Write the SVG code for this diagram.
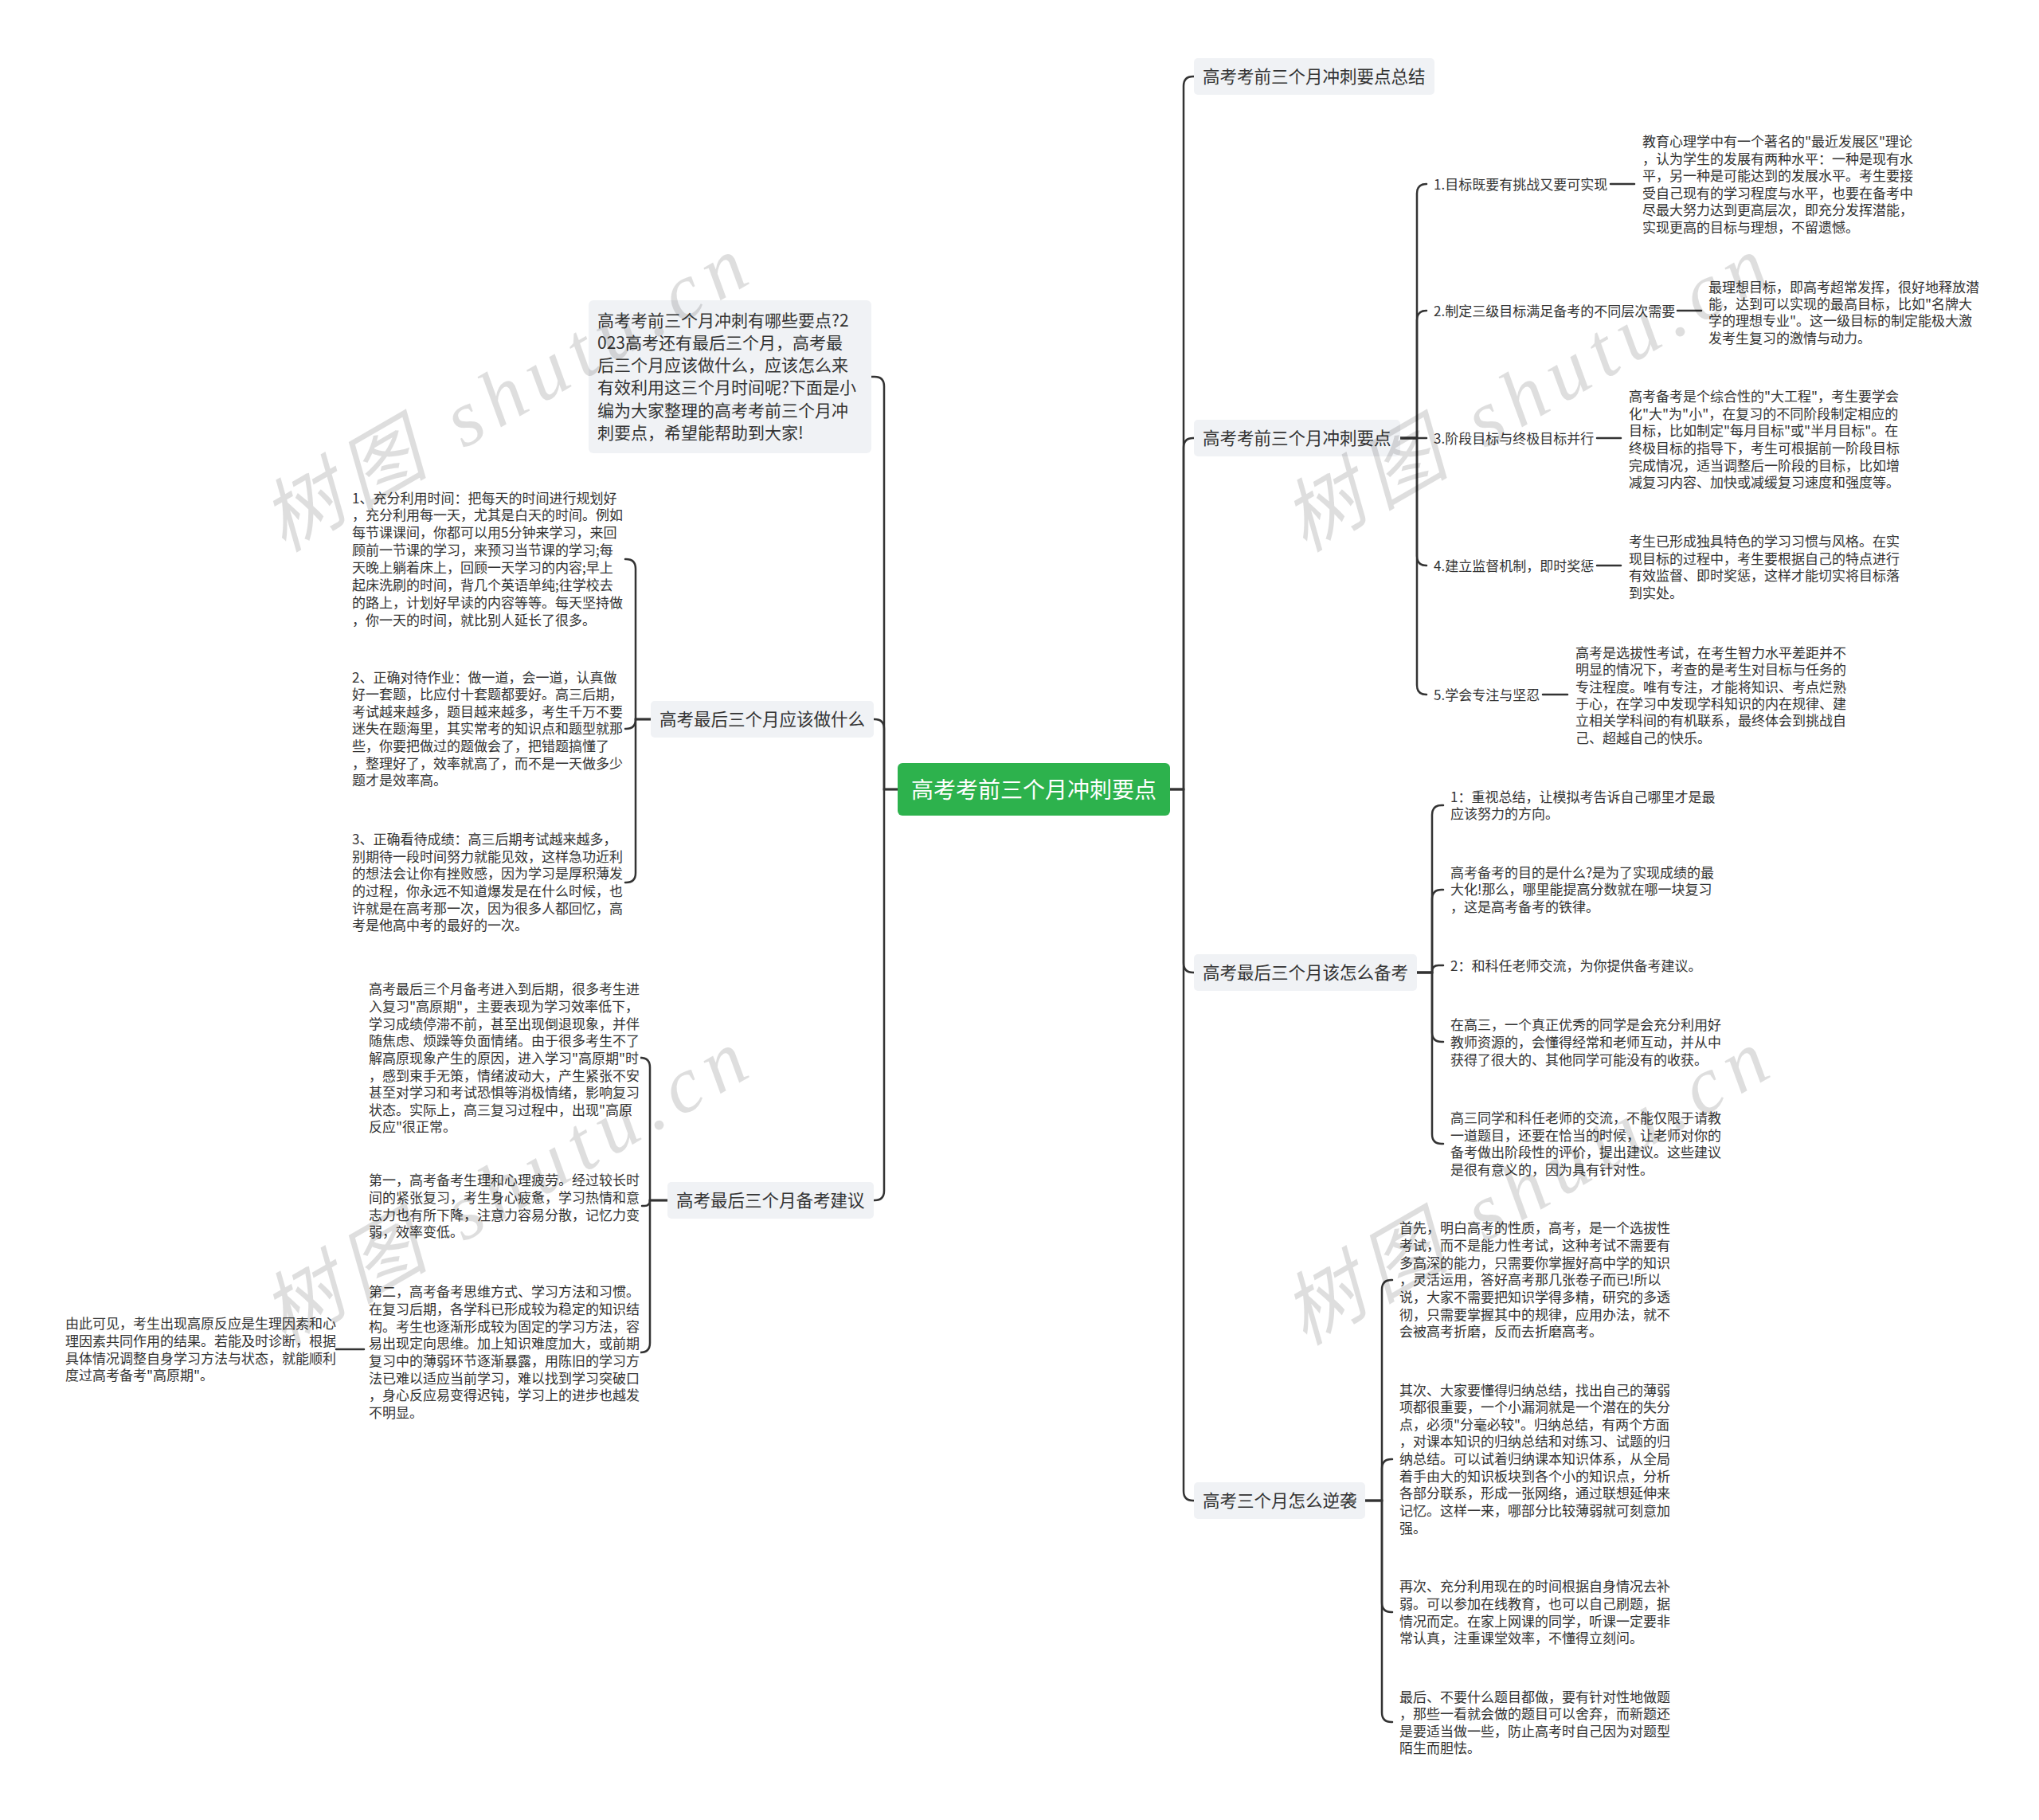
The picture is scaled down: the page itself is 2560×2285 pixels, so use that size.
<svg xmlns="http://www.w3.org/2000/svg" width="2560" height="2285" viewBox="0 0 2560 2285">
<style>
text{font-family:"Noto Sans CJK SC","Noto Sans",sans-serif;fill:#333}
.t17{font-size:17px}
.t21{font-size:21px}
.t22{font-size:21.5px}
.root{font-size:28px;fill:#fff}
.box{fill:#F0F2F5}
.ln{fill:none;stroke:#333;stroke-width:2.5;stroke-linecap:round}
.wm{font-family:"Liberation Serif","Noto Sans CJK SC",serif;font-style:italic;font-size:100px;fill:#000;fill-opacity:0.13}
</style>
<rect width="2560" height="2285" fill="#fff"/>
<g id="connectors">
<path class="ln" d="M1469,991 H1486 V108 Q1486,96 1498,96 H1499"/>
<path class="ln" d="M1469,991 H1486 V562 Q1486,550 1498,550 H1499"/>
<path class="ln" d="M1469,991 H1486 V1209 Q1486,1221 1498,1221 H1499"/>
<path class="ln" d="M1469,991 H1486 V1872 Q1486,1884 1498,1884 H1499"/>
<path class="ln" d="M1127,991 H1110 V485 Q1110,473 1098,473 H1094"/>
<path class="ln" d="M1127,991 H1110 V915 Q1110,903 1098,903 H1097"/>
<path class="ln" d="M1127,991 H1110 V1495 Q1110,1507 1098,1507 H1097"/>
<path class="ln" d="M1758,550 H1779 V243 Q1779,231 1791,231"/>
<path class="ln" d="M1758,550 H1779 V402 Q1779,390 1791,390"/>
<path class="ln" d="M1758,550 H1791"/>
<path class="ln" d="M1758,550 H1779 V698 Q1779,710 1791,710"/>
<path class="ln" d="M1758,550 H1779 V860 Q1779,872 1791,872"/>
<path class="ln" d="M2022,231 H2052"/>
<path class="ln" d="M2106,390 H2136"/>
<path class="ln" d="M2005,550 H2035"/>
<path class="ln" d="M2005,710 H2035"/>
<path class="ln" d="M1937,872 H1968"/>
<path class="ln" d="M1779,1221 H1798 V1023 Q1798,1011 1810,1011 H1812"/>
<path class="ln" d="M1779,1221 H1798 V1129 Q1798,1117 1810,1117 H1812"/>
<path class="ln" d="M1779,1221 H1798 V1220 Q1798,1212 1806,1212 H1812"/>
<path class="ln" d="M1779,1221 H1798 V1296 Q1798,1308 1810,1308 H1812"/>
<path class="ln" d="M1779,1221 H1798 V1424 Q1798,1436 1810,1436 H1812"/>
<path class="ln" d="M1714,1884 H1735 V1619 Q1735,1607 1747,1607 H1748"/>
<path class="ln" d="M1714,1884 H1735 V1844 Q1735,1832 1747,1832 H1748"/>
<path class="ln" d="M1714,1884 H1735 V2012 Q1735,2024 1747,2024 H1748"/>
<path class="ln" d="M1714,1884 H1735 V2150 Q1735,2162 1747,2162 H1748"/>
<path class="ln" d="M817,903 H798 V714 Q798,702 786,702 H785"/>
<path class="ln" d="M817,903 H798 V903 Q798,915 786,915 H785"/>
<path class="ln" d="M817,903 H798 V1096 Q798,1108 786,1108 H785"/>
<path class="ln" d="M838,1507 H816 V1340 Q816,1328 804,1328 H806"/>
<path class="ln" d="M838,1507 H816 V1507 Q816,1514 809,1514 H806"/>
<path class="ln" d="M838,1507 H816 V1686 Q816,1698 804,1698 H806"/>
<path class="ln" d="M457,1694 H422"/>
</g>
<g id="root">
<rect x="1127" y="958" width="342" height="66" rx="6" fill="#2DB24D"/>
<text class="root" x="1298" y="1001.5" text-anchor="middle">高考考前三个月冲刺要点</text>
</g>
<g id="r1"><rect class="box" x="1499" y="73" width="302" height="46" rx="5"/><text class="t22" x="1510" y="104">高考考前三个月冲刺要点总结</text></g>
<g id="r2"><rect class="box" x="1499" y="527" width="259" height="46" rx="5"/><text class="t22" x="1510" y="558">高考考前三个月冲刺要点</text></g>
<g id="r3"><rect class="box" x="1499" y="1198" width="280" height="46" rx="5"/><text class="t22" x="1510" y="1229">高考最后三个月该怎么备考</text></g>
<g id="r4"><rect class="box" x="1499" y="1861" width="215" height="46" rx="5"/><text class="t22" x="1510" y="1892">高考三个月怎么逆袭</text></g>
<g id="l2"><rect class="box" x="817" y="880" width="280" height="46" rx="5"/><text class="t22" x="828" y="911">高考最后三个月应该做什么</text></g>
<g id="l3"><rect class="box" x="838" y="1484" width="259" height="46" rx="5"/><text class="t22" x="849" y="1515">高考最后三个月备考建议</text></g>
<g id="l1"><rect class="box" x="739" y="377" width="355" height="192" rx="6"/>
<text class="t21" y="409.5"><tspan x="750">高考考前三个月冲刺有哪些要点?2</tspan><tspan x="750" dy="28.3">023高考还有最后三个月，高考最</tspan><tspan x="750" dy="28.3">后三个月应该做什么，应该怎么来</tspan><tspan x="750" dy="28.3">有效利用这三个月时间呢?下面是小</tspan><tspan x="750" dy="28.3">编为大家整理的高考考前三个月冲</tspan><tspan x="750" dy="28.3">刺要点，希望能帮助到大家!</tspan></text></g>
<g id="lb1"><text class="t17" y="631.5"><tspan x="442">1、充分利用时间：把每天的时间进行规划好</tspan><tspan x="442" dy="21.9">，充分利用每一天，尤其是白天的时间。例如</tspan><tspan x="442" dy="21.9">每节课课间，你都可以用5分钟来学习，来回</tspan><tspan x="442" dy="21.9">顾前一节课的学习，来预习当节课的学习;每</tspan><tspan x="442" dy="21.9">天晚上躺着床上，回顾一天学习的内容;早上</tspan><tspan x="442" dy="21.9">起床洗刷的时间，背几个英语单纯;往学校去</tspan><tspan x="442" dy="21.9">的路上，计划好早读的内容等等。每天坚持做</tspan><tspan x="442" dy="21.9">，你一天的时间，就比别人延长了很多。</tspan></text></g>
<g id="lb2"><text class="t17" y="856.5"><tspan x="442">2、正确对待作业：做一道，会一道，认真做</tspan><tspan x="442" dy="21.6">好一套题，比应付十套题都要好。高三后期，</tspan><tspan x="442" dy="21.6">考试越来越多，题目越来越多，考生千万不要</tspan><tspan x="442" dy="21.6">迷失在题海里，其实常考的知识点和题型就那</tspan><tspan x="442" dy="21.6">些，你要把做过的题做会了，把错题搞懂了</tspan><tspan x="442" dy="21.6">，整理好了，效率就高了，而不是一天做多少</tspan><tspan x="442" dy="21.6">题才是效率高。</tspan></text></g>
<g id="lb3"><text class="t17" y="1059.8"><tspan x="442">3、正确看待成绩：高三后期考试越来越多，</tspan><tspan x="442" dy="21.7">别期待一段时间努力就能见效，这样急功近利</tspan><tspan x="442" dy="21.7">的想法会让你有挫败感，因为学习是厚积薄发</tspan><tspan x="442" dy="21.7">的过程，你永远不知道爆发是在什么时候，也</tspan><tspan x="442" dy="21.7">许就是在高考那一次，因为很多人都回忆，高</tspan><tspan x="442" dy="21.7">考是他高中考的最好的一次。</tspan></text></g>
<g id="la"><text class="t17" y="1248.2"><tspan x="463">高考最后三个月备考进入到后期，很多考生进</tspan><tspan x="463" dy="21.66">入复习"高原期"，主要表现为学习效率低下，</tspan><tspan x="463" dy="21.66">学习成绩停滞不前，甚至出现倒退现象，并伴</tspan><tspan x="463" dy="21.66">随焦虑、烦躁等负面情绪。由于很多考生不了</tspan><tspan x="463" dy="21.66">解高原现象产生的原因，进入学习"高原期"时</tspan><tspan x="463" dy="21.66">，感到束手无策，情绪波动大，产生紧张不安</tspan><tspan x="463" dy="21.66">甚至对学习和考试恐惧等消极情绪，影响复习</tspan><tspan x="463" dy="21.66">状态。实际上，高三复习过程中，出现"高原</tspan><tspan x="463" dy="21.66">反应"很正常。</tspan></text></g>
<g id="lbb"><text class="t17" y="1488.2"><tspan x="463">第一，高考备考生理和心理疲劳。经过较长时</tspan><tspan x="463" dy="21.7">间的紧张复习，考生身心疲惫，学习热情和意</tspan><tspan x="463" dy="21.7">志力也有所下降，注意力容易分散，记忆力变</tspan><tspan x="463" dy="21.7">弱，效率变低。</tspan></text></g>
<g id="lc"><text class="t17" y="1628.2"><tspan x="463">第二，高考备考思维方式、学习方法和习惯。</tspan><tspan x="463" dy="21.66">在复习后期，各学科已形成较为稳定的知识结</tspan><tspan x="463" dy="21.66">构。考生也逐渐形成较为固定的学习方法，容</tspan><tspan x="463" dy="21.66">易出现定向思维。加上知识难度加大，或前期</tspan><tspan x="463" dy="21.66">复习中的薄弱环节逐渐暴露，用陈旧的学习方</tspan><tspan x="463" dy="21.66">法已难以适应当前学习，难以找到学习突破口</tspan><tspan x="463" dy="21.66">，身心反应易变得迟钝，学习上的进步也越发</tspan><tspan x="463" dy="21.66">不明显。</tspan></text></g>
<g id="ld"><text class="t17" y="1668.2"><tspan x="82">由此可见，考生出现高原反应是生理因素和心</tspan><tspan x="82" dy="21.7">理因素共同作用的结果。若能及时诊断，根据</tspan><tspan x="82" dy="21.7">具体情况调整自身学习方法与状态，就能顺利</tspan><tspan x="82" dy="21.7">度过高考备考"高原期"。</tspan></text></g>
<g id="k1"><text class="t17" x="1800" y="237.5">1.目标既要有挑战又要可实现</text></g>
<g id="k2"><text class="t17" x="1800" y="396.5">2.制定三级目标满足备考的不同层次需要</text></g>
<g id="k3"><text class="t17" x="1800" y="556.5">3.阶段目标与终极目标并行</text></g>
<g id="k4"><text class="t17" x="1800" y="716.5">4.建立监督机制，即时奖惩</text></g>
<g id="k5"><text class="t17" x="1800" y="878.5">5.学会专注与坚忍</text></g>
<g id="kd1"><text class="t17" y="184.2"><tspan x="2062">教育心理学中有一个著名的"最近发展区"理论</tspan><tspan x="2062" dy="21.5">，认为学生的发展有两种水平：一种是现有水</tspan><tspan x="2062" dy="21.5">平，另一种是可能达到的发展水平。考生要接</tspan><tspan x="2062" dy="21.5">受自己现有的学习程度与水平，也要在备考中</tspan><tspan x="2062" dy="21.5">尽最大努力达到更高层次，即充分发挥潜能，</tspan><tspan x="2062" dy="21.5">实现更高的目标与理想，不留遗憾。</tspan></text></g>
<g id="kd2"><text class="t17" y="366.5"><tspan x="2145">最理想目标，即高考超常发挥，很好地释放潜</tspan><tspan x="2145" dy="21.4">能，达到可以实现的最高目标，比如"名牌大</tspan><tspan x="2145" dy="21.4">学的理想专业"。这一级目标的制定能极大激</tspan><tspan x="2145" dy="21.4">发考生复习的激情与动力。</tspan></text></g>
<g id="kd3"><text class="t17" y="503.8"><tspan x="2045">高考备考是个综合性的"大工程"，考生要学会</tspan><tspan x="2045" dy="21.7">化"大"为"小"，在复习的不同阶段制定相应的</tspan><tspan x="2045" dy="21.7">目标，比如制定"每月目标"或"半月目标"。在</tspan><tspan x="2045" dy="21.7">终极目标的指导下，考生可根据前一阶段目标</tspan><tspan x="2045" dy="21.7">完成情况，适当调整后一阶段的目标，比如增</tspan><tspan x="2045" dy="21.7">减复习内容、加快或减缓复习速度和强度等。</tspan></text></g>
<g id="kd4"><text class="t17" y="685.8"><tspan x="2045">考生已形成独具特色的学习习惯与风格。在实</tspan><tspan x="2045" dy="21.7">现目标的过程中，考生要根据自己的特点进行</tspan><tspan x="2045" dy="21.7">有效监督、即时奖惩，这样才能切实将目标落</tspan><tspan x="2045" dy="21.7">到实处。</tspan></text></g>
<g id="kd5"><text class="t17" y="825.8"><tspan x="1978">高考是选拔性考试，在考生智力水平差距并不</tspan><tspan x="1978" dy="21.4">明显的情况下，考查的是考生对目标与任务的</tspan><tspan x="1978" dy="21.4">专注程度。唯有专注，才能将知识、考点烂熟</tspan><tspan x="1978" dy="21.4">于心，在学习中发现学科知识的内在规律、建</tspan><tspan x="1978" dy="21.4">立相关学科间的有机联系，最终体会到挑战自</tspan><tspan x="1978" dy="21.4">己、超越自己的快乐。</tspan></text></g>
<g id="c1"><text class="t17" y="1006.5"><tspan x="1821">1：重视总结，让模拟考告诉自己哪里才是最</tspan><tspan x="1821" dy="21.7">应该努力的方向。</tspan></text></g>
<g id="c2"><text class="t17" y="1101.5"><tspan x="1821">高考备考的目的是什么?是为了实现成绩的最</tspan><tspan x="1821" dy="21.7">大化!那么，哪里能提高分数就在哪一块复习</tspan><tspan x="1821" dy="21.7">，这是高考备考的铁律。</tspan></text></g>
<g id="c3"><text class="t17" y="1218.8"><tspan x="1821">2：和科任老师交流，为你提供备考建议。</tspan></text></g>
<g id="c4"><text class="t17" y="1293.2"><tspan x="1821">在高三，一个真正优秀的同学是会充分利用好</tspan><tspan x="1821" dy="21.7">教师资源的，会懂得经常和老师互动，并从中</tspan><tspan x="1821" dy="21.7">获得了很大的、其他同学可能没有的收获。</tspan></text></g>
<g id="c5"><text class="t17" y="1409.8"><tspan x="1821">高三同学和科任老师的交流，不能仅限于请教</tspan><tspan x="1821" dy="21.7">一道题目，还要在恰当的时候，让老师对你的</tspan><tspan x="1821" dy="21.7">备考做出阶段性的评价，提出建议。这些建议</tspan><tspan x="1821" dy="21.7">是很有意义的，因为具有针对性。</tspan></text></g>
<g id="d1"><text class="t17" y="1548.2"><tspan x="1757">首先，明白高考的性质，高考，是一个选拔性</tspan><tspan x="1757" dy="21.66">考试，而不是能力性考试，这种考试不需要有</tspan><tspan x="1757" dy="21.66">多高深的能力，只需要你掌握好高中学的知识</tspan><tspan x="1757" dy="21.66">，灵活运用，答好高考那几张卷子而已!所以</tspan><tspan x="1757" dy="21.66">说，大家不需要把知识学得多精，研究的多透</tspan><tspan x="1757" dy="21.66">彻，只需要掌握其中的规律，应用办法，就不</tspan><tspan x="1757" dy="21.66">会被高考折磨，反而去折磨高考。</tspan></text></g>
<g id="d2"><text class="t17" y="1751.5"><tspan x="1757">其次、大家要懂得归纳总结，找出自己的薄弱</tspan><tspan x="1757" dy="21.66">项都很重要，一个小漏洞就是一个潜在的失分</tspan><tspan x="1757" dy="21.66">点，必须"分毫必较"。归纳总结，有两个方面</tspan><tspan x="1757" dy="21.66">，对课本知识的归纳总结和对练习、试题的归</tspan><tspan x="1757" dy="21.66">纳总结。可以试着归纳课本知识体系，从全局</tspan><tspan x="1757" dy="21.66">着手由大的知识板块到各个小的知识点，分析</tspan><tspan x="1757" dy="21.66">各部分联系，形成一张网络，通过联想延伸来</tspan><tspan x="1757" dy="21.66">记忆。这样一来，哪部分比较薄弱就可刻意加</tspan><tspan x="1757" dy="21.66">强。</tspan></text></g>
<g id="d3"><text class="t17" y="1998.2"><tspan x="1757">再次、充分利用现在的时间根据自身情况去补</tspan><tspan x="1757" dy="21.66">弱。可以参加在线教育，也可以自己刷题，据</tspan><tspan x="1757" dy="21.66">情况而定。在家上网课的同学，听课一定要非</tspan><tspan x="1757" dy="21.66">常认真，注重课堂效率，不懂得立刻问。</tspan></text></g>
<g id="d4"><text class="t17" y="2136.5"><tspan x="1757">最后、不要什么题目都做，要有针对性地做题</tspan><tspan x="1757" dy="21.66">，那些一看就会做的题目可以舍弃，而新题还</tspan><tspan x="1757" dy="21.66">是要适当做一些，防止高考时自己因为对题型</tspan><tspan x="1757" dy="21.66">陌生而胆怯。</tspan></text></g>
<g id="watermarks">
<text class="wm" transform="translate(356,694) rotate(-30)" textLength="680">树图 shutu.cn</text>
<text class="wm" transform="translate(1638,694) rotate(-30)" textLength="680">树图 shutu.cn</text>
<text class="wm" transform="translate(356,1690) rotate(-30)" textLength="680">树图 shutu.cn</text>
<text class="wm" transform="translate(1638,1690) rotate(-30)" textLength="680">树图 shutu.cn</text>
</g>
</svg>
